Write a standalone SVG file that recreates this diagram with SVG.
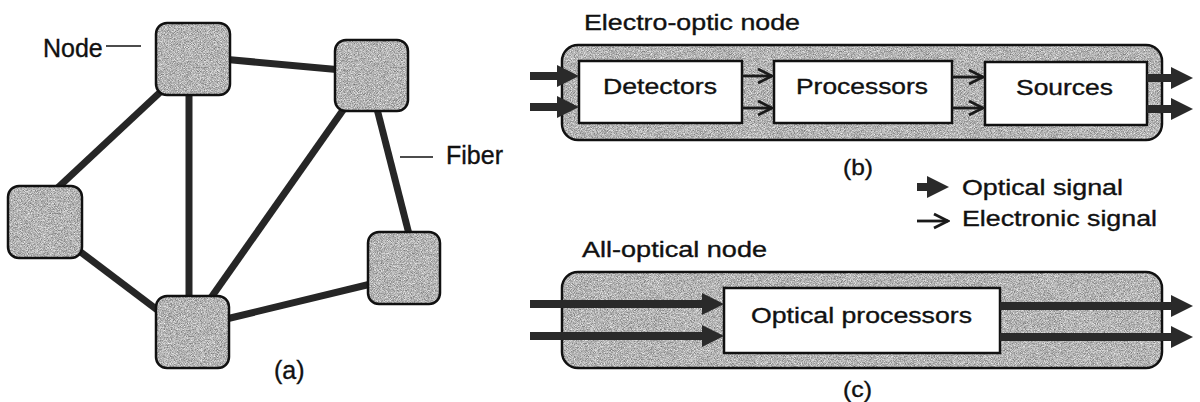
<svg xmlns="http://www.w3.org/2000/svg" width="1200" height="402" viewBox="0 0 1200 402">
  <style>
    .t { font-family: "Liberation Sans", Arial, sans-serif; fill: #111; stroke: #111; stroke-width: 0.35; }
    .ta { font-size: 25px; }
    .tb { font-size: 21.5px; }
    .node { fill: url(#grain); stroke: #111; stroke-width: 2.5; }
    .box { fill: #fff; stroke: #111; stroke-width: 2.5; }
    .fiber { stroke: #262626; stroke-width: 7; fill: none; }
    .opt { stroke: #2a2a2a; stroke-width: 8; marker-end: url(#optHead); }
    .elec { stroke: #1a1a1a; stroke-width: 2.8; marker-end: url(#elecHead); }
    .lead { stroke: #111; stroke-width: 1.6; }
  </style>
  <defs>
    <filter id="noise" x="0" y="0" width="100%" height="100%" color-interpolation-filters="sRGB">
      <feTurbulence type="fractalNoise" baseFrequency="1.3" numOctaves="1" seed="7" stitchTiles="stitch"/>
      <feColorMatrix type="matrix" values="0.85 0 0 0 0.28  0.85 0 0 0 0.28  0.85 0 0 0 0.28  0 0 0 0 1"/>
    </filter>
    <pattern id="grain" patternUnits="userSpaceOnUse" x="0" y="0" width="1200" height="402">
      <rect width="1200" height="402" filter="url(#noise)"/>
    </pattern>
    <marker id="optHead" viewBox="0 -11 22 22" refX="0" refY="0" markerWidth="22" markerHeight="22" markerUnits="userSpaceOnUse" orient="auto">
      <path d="M0,-11 L22,0 L0,11 z" fill="#2a2a2a"/>
    </marker>
    <marker id="elecHead" viewBox="-16 -9 18 18" refX="0" refY="0" markerWidth="18" markerHeight="18" markerUnits="userSpaceOnUse" orient="auto">
      <path d="M-14,-7 L0,0 L-14,7" fill="none" stroke="#1a1a1a" stroke-width="2.8"/>
    </marker>
  </defs>

  <!-- Panel (a): connectors -->
  <g id="fibers">
    <line class="fiber" x1="222" y1="59" x2="342" y2="70"/>
    <line class="fiber" x1="170" y1="83" x2="50" y2="195"/>
    <line class="fiber" x1="189" y1="90" x2="189" y2="302"/>
    <line class="fiber" x1="348" y1="103" x2="208" y2="302"/>
    <line class="fiber" x1="376" y1="105" x2="410" y2="238"/>
    <line class="fiber" x1="74" y1="247" x2="164" y2="315"/>
    <line class="fiber" x1="222" y1="320" x2="375" y2="283"/>
  </g>

  <!-- Panel (a): nodes -->
  <g id="nodeA"><rect class="node" x="156" y="23" width="74" height="72" rx="11"/></g>
  <g id="nodeB"><rect class="node" x="335" y="40" width="73" height="71" rx="11"/></g>
  <g id="nodeC"><rect class="node" x="8" y="186" width="74" height="72" rx="11"/></g>
  <g id="nodeD"><rect class="node" x="156" y="296" width="73" height="72" rx="11"/></g>
  <g id="nodeE"><rect class="node" x="368" y="232" width="72" height="72" rx="11"/></g>

  <g id="labelsA">
    <text class="t ta" x="43" y="57">Node</text>
    <line class="lead" x1="106" y1="46" x2="141" y2="46"/>
    <text class="t ta" x="446" y="164">Fiber</text>
    <line class="lead" x1="400" y1="157" x2="433" y2="157"/>
    <text class="t ta" x="274" y="379">(a)</text>
  </g>

  <!-- Panel (b) -->
  <g id="electroOpticNode">
    <text class="t tb" x="584" y="30" textLength="216" lengthAdjust="spacingAndGlyphs">Electro-optic node</text>
    <rect class="node" x="562" y="45" width="600" height="95" rx="16"/>
  </g>
  <g id="detectors">
    <rect class="box" x="579" y="61" width="163" height="62"/>
    <text class="t tb" x="603" y="94" textLength="114" lengthAdjust="spacingAndGlyphs">Detectors</text>
  </g>
  <g id="processors">
    <rect class="box" x="774" y="61" width="178" height="62"/>
    <text class="t tb" x="796" y="94" textLength="132" lengthAdjust="spacingAndGlyphs">Processors</text>
  </g>
  <g id="sources">
    <rect class="box" x="985" y="62" width="162" height="63"/>
    <text class="t tb" x="1016" y="95" textLength="97" lengthAdjust="spacingAndGlyphs">Sources</text>
  </g>
  <g id="connectorsB">
    <line class="opt" x1="530" y1="76" x2="557" y2="76"/>
    <line class="opt" x1="530" y1="107" x2="557" y2="107"/>
    <line class="elec" x1="742" y1="76" x2="772" y2="76"/>
    <line class="elec" x1="742" y1="108" x2="772" y2="108"/>
    <line class="elec" x1="952" y1="77" x2="983" y2="77"/>
    <line class="elec" x1="952" y1="108" x2="983" y2="108"/>
    <line class="opt" x1="1147" y1="78" x2="1171" y2="78"/>
    <line class="opt" x1="1147" y1="109" x2="1171" y2="109"/>
  </g>
  <text class="t tb" x="843" y="175" textLength="30" lengthAdjust="spacingAndGlyphs">(b)</text>

  <!-- Legend -->
  <g id="legend">
    <line class="opt" x1="917" y1="187" x2="927" y2="187"/>
    <text class="t tb" x="962" y="195" textLength="161" lengthAdjust="spacingAndGlyphs">Optical signal</text>
    <line class="elec" x1="917" y1="221" x2="948" y2="221"/>
    <text class="t tb" x="962" y="226" textLength="195" lengthAdjust="spacingAndGlyphs">Electronic signal</text>
  </g>

  <!-- Panel (c) -->
  <g id="allOpticalNode">
    <text class="t tb" x="582" y="257" textLength="185" lengthAdjust="spacingAndGlyphs">All-optical node</text>
    <rect class="node" x="562" y="272" width="600" height="96" rx="16"/>
  </g>
  <g id="opticalProcessors">
    <rect class="box" x="724" y="288" width="276" height="65"/>
    <text class="t tb" x="751" y="323" textLength="221" lengthAdjust="spacingAndGlyphs">Optical processors</text>
  </g>
  <g id="connectorsC">
    <line class="opt" x1="530" y1="304" x2="702" y2="304"/>
    <line class="opt" x1="530" y1="336" x2="702" y2="336"/>
    <line class="opt" x1="1000" y1="306" x2="1171" y2="306"/>
    <line class="opt" x1="1000" y1="337" x2="1171" y2="337"/>
  </g>
  <text class="t tb" x="843" y="397" textLength="29" lengthAdjust="spacingAndGlyphs">(c)</text>
</svg>
